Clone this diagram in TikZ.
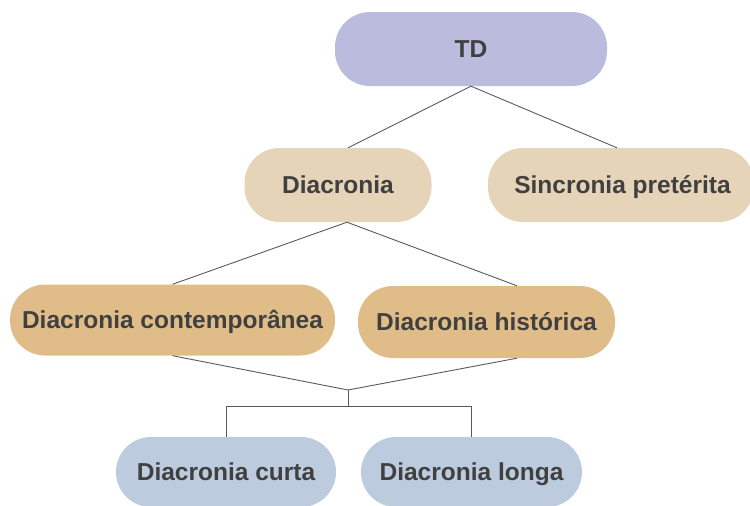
\documentclass[tikz,border=0pt]{standalone}
\usepackage{fontspec}
\setmainfont{Liberation Sans}
\usetikzlibrary{calc}
\definecolor{txt}{HTML}{404040}
\definecolor{lav}{HTML}{BBBBDD}
\definecolor{beige}{HTML}{E6D4B8}
\definecolor{tan}{HTML}{E0BD88}
\definecolor{pblue}{HTML}{BCCBDD}
\definecolor{ln}{HTML}{5A5A5A}
\tikzset{
  pill/.style={rectangle, rounded corners=35pt, draw=none, inner sep=0pt,
    text height=17.6pt, text depth=0pt,
    font=\fontsize{24.5}{28}\selectfont\bfseries, text=txt},
  conn/.style={draw=ln, line width=0.9pt}
}
\begin{document}
\begin{tikzpicture}[x=1pt,y=-1pt]
\useasboundingbox (0,0) rectangle (750,506);
\clip (0,0) rectangle (750,506);
\node[pill, fill=lav, minimum width=272pt, minimum height=74pt] (td) at (471,49) {TD};
\node[pill, fill=beige, minimum width=187pt, minimum height=74pt] (diac) at (338,185) {Diacronia};
\node[pill, fill=beige, minimum width=266pt, minimum height=74pt] (sinc) at (621,185) {\hspace*{3pt}Sincronia pretérita};
\node[pill, fill=tan, minimum width=325pt, minimum height=71pt] (cont) at (172.5,320) {Diacronia contemporânea};
\node[pill, fill=tan, minimum width=257pt, minimum height=72pt] (hist) at (486.5,322) {Diacronia histórica};
\node[pill, fill=pblue, minimum width=220pt, minimum height=70pt] (curta) at (226,472) {Diacronia curta};
\node[pill, fill=pblue, minimum width=221pt, minimum height=70pt] (longa) at (471.5,472) {Diacronia longa};
\coordinate (j) at (348,390);
\coordinate (j2) at (348,406);
\draw[conn] (td.south) -- ([xshift=10pt]diac.north);
\draw[conn] (td.south) -- ([xshift=-4pt]sinc.north);
\draw[conn] ([xshift=9pt]diac.south) -- (cont.north);
\draw[conn] ([xshift=9pt]diac.south) -- ([xshift=30.5pt]hist.north);
\draw[conn] (cont.south) -- (j);
\draw[conn] ([xshift=30.5pt]hist.south) -- (j);
\draw[conn] (j) -- (j2);
\draw[conn] (j2) -| (curta.north);
\draw[conn] (j2) -| (longa.north);
\end{tikzpicture}
\end{document}
